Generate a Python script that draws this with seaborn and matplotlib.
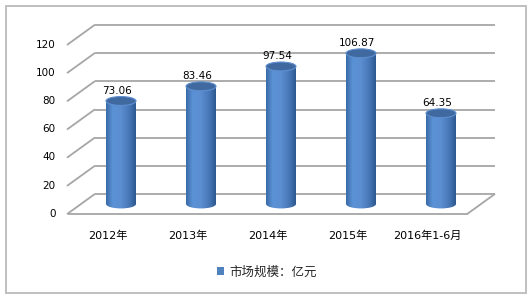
import numpy as np
import pandas as pd
import matplotlib
matplotlib.use("Agg")
import matplotlib.pyplot as plt
import seaborn as sns
from matplotlib.transforms import ScaledTranslation
from matplotlib.patches import Ellipse, Rectangle, Patch, ConnectionPatch
from matplotlib.colors import LinearSegmentedColormap

# ---- data ----
categories = ["2012年", "2013年", "2014年", "2015年", "2016年1-6月"]
values = [73.06, 83.46, 97.54, 106.87, 64.35]
y_ticks = [0, 20, 40, 60, 80, 100, 120]
series_name = "市场规模：亿元"

sns.set_theme(style="white")
plt.rcParams["font.family"] = ["DejaVu Sans", "Noto Sans CJK SC"]

DPI = 100
W, H = 531, 300
fig = plt.figure(figsize=(W / DPI, H / DPI), dpi=DPI)
fig.patch.set_facecolor("white")

# bar plane axes (middle depth)
ax = fig.add_axes([81 / W, 96 / H, 400 / W, 169.2 / H])
df = pd.DataFrame({"cat": categories, "val": values})
sns.barplot(data=df, x="cat", y="val", width=0.375, color="#4F81BD",
            ax=ax, zorder=2, saturation=1)
ax.set_xlim(-0.5, 4.5)
ax.set_ylim(0, 120)
ax.axis("off")

DX, DY = 13.5, 9.75  # half depth offset in pixels
back = ax.transData + ScaledTranslation(DX / DPI, DY / DPI, fig.dpi_scale_trans)
front = ax.transData + ScaledTranslation(-DX / DPI, -DY / DPI, fig.dpi_scale_trans)

grid_c = "#A6A6A6"
grid_lw = 1.3
x_lo, x_hi = ax.get_xlim()
for v in y_ticks:
    ax.plot([x_lo, x_hi], [v, v], transform=back, color=grid_c, lw=grid_lw,
            clip_on=False, zorder=0, solid_capstyle="butt")
    cp = ConnectionPatch(xyA=(x_lo, v), coordsA=front, xyB=(x_lo, v), coordsB=back,
                         color=grid_c, lw=grid_lw, zorder=0, clip_on=False)
    ax.add_artist(cp)
# floor front edge and right edge
ax.plot([x_lo, x_hi], [0, 0], transform=front, color=grid_c, lw=grid_lw,
        clip_on=False, zorder=0, solid_capstyle="butt")
cp = ConnectionPatch(xyA=(x_hi, 0), coordsA=front, xyB=(x_hi, 0), coordsB=back,
                     color=grid_c, lw=grid_lw, zorder=0, clip_on=False)
ax.add_artist(cp)

# cylinder shading
body_cmap = LinearSegmentedColormap.from_list(
    "body", [(0.0, "#3C6BA8"), (0.22, "#5A92D6"), (0.5, "#5B8ED1"),
             (0.8, "#4675B5"), (1.0, "#2D5990")])
grad = np.linspace(0, 1, 64).reshape(1, -1)
ell_h = 6.3  # ellipse height in data units
bars = [p for p in ax.patches if isinstance(p, Rectangle)]
for p, v in zip(bars, values):
    x0, w, h = p.get_x(), p.get_width(), p.get_height()
    xc = x0 + w / 2
    p.set_edgecolor("none")
    im = ax.imshow(grad, cmap=body_cmap, extent=(x0, x0 + w, -ell_h, h),
                   aspect="auto", zorder=3, interpolation="bilinear")
    im.set_clip_box(fig.bbox)
    im.set_clip_path(p)
    bottom = Ellipse((xc, 0), w, ell_h, transform=ax.transData)
    im2 = ax.imshow(grad, cmap=body_cmap, extent=(x0, x0 + w, -ell_h, h),
                    aspect="auto", zorder=3, interpolation="bilinear")
    im2.set_clip_box(fig.bbox)
    im2.set_clip_path(bottom)
    top = Ellipse((xc, h), w, ell_h, facecolor="#40699F",
                  edgecolor="#5E8FD0", lw=0.8, zorder=4, clip_on=False)
    ax.add_patch(top)
    ax.annotate(f"{v:.2f}", xy=(xc, h), xytext=(-4, 10),
                textcoords="offset pixels", ha="center", va="center",
                fontsize=7.5, color="black", zorder=5, annotation_clip=False)
ax.set_xlim(-0.5, 4.5)
ax.set_ylim(0, 120)

# y tick labels on front-left edge
ytr = ax.get_yaxis_transform() + ScaledTranslation((-DX - 12) / DPI, -DY / DPI,
                                                    fig.dpi_scale_trans)
for v in y_ticks:
    ax.text(0, v, f"{v}", transform=ytr, ha="right", va="center",
            fontsize=7.5, color="black", clip_on=False)

# category labels
xtr = ax.get_xaxis_transform() + ScaledTranslation(-DX / DPI, -32 / DPI,
                                                    fig.dpi_scale_trans)
for i, c in enumerate(categories):
    ax.text(i, 0, c, transform=xtr, ha="center", va="center",
            fontsize=8, color="black", clip_on=False)

# legend
handle = Patch(facecolor="#4F81BD", edgecolor="none", label=series_name)
fig.legend(handles=[handle], loc="center", bbox_to_anchor=(267 / W, 1 - 272 / H),
           frameon=False, fontsize=9, handlelength=0.55, handleheight=0.55,
           handletextpad=0.45, borderpad=0)

# outer border
fig.add_artist(Rectangle((5.5 / W, 7.5 / H), 520 / W, 287 / H,
                         transform=fig.transFigure, fill=False,
                         edgecolor="#BFBFBF", lw=1.4))

fig.savefig("out.png", dpi=DPI)
